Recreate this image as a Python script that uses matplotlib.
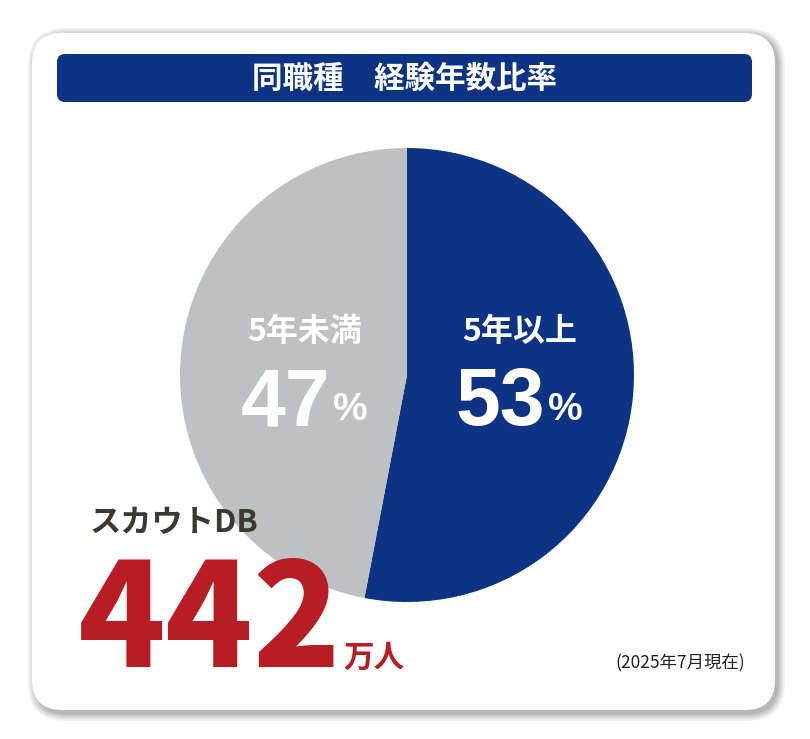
import matplotlib.pyplot as plt
from matplotlib.patches import FancyBboxPatch

plt.rcParams['font.family'] = ['Noto Sans CJK JP', 'DejaVu Sans']

title = "同職種　経験年数比率"
categories = ["5年以上", "5年未満"]
shares = [53, 47]
slice_colors = ["#0c3384", "#bdc1c1"]
db_label = "スカウトDB"
db_count = "442"
db_unit = "万人"
note = "(2025年7月現在)"

W, H = 810, 739
fig = plt.figure(figsize=(W / 100, H / 100), dpi=100)
ax = fig.add_axes([0, 0, 1, 1])

def Y(y):
    # image rows -> data coords (y up)
    return H - y

# card shadow
for i, a in enumerate([0.05, 0.05, 0.06, 0.07, 0.08]):
    pad = 8 - i * 1.6
    ax.add_patch(FancyBboxPatch((36, Y(713)), 741, 677, boxstyle=f"round,pad={pad},rounding_size={30 + pad}",
                                fc="#000000", ec="none", alpha=a, zorder=0))
# card
ax.add_patch(FancyBboxPatch((32, Y(710)), 743, 677, boxstyle="round,pad=0,rounding_size=30",
                            fc="white", ec="none", zorder=1))
# title bar
ax.add_patch(FancyBboxPatch((57, Y(102)), 695, 48, boxstyle="round,pad=0,rounding_size=8",
                            fc="#0c3384", ec="none", zorder=2))
ax.text(405, Y(79), title, color="white", fontsize=22, fontweight="bold",
        ha="center", va="center", zorder=3)

# pie
ax.pie(shares, colors=slice_colors, startangle=90, counterclock=False,
       center=(407, Y(375)), radius=227, wedgeprops=dict(linewidth=0))
for p in ax.patches[-2:]:
    p.set_zorder(2)

num_font = ["Liberation Sans Narrow", "Liberation Sans", "DejaVu Sans"]
# labels inside slices
ax.text(520, Y(332), categories[0], color="white", fontsize=23, fontweight="bold",
        ha="center", va="center", zorder=4)
ax.text(500, Y(404), str(shares[0]), color="white", fontsize=58, fontweight="bold",
        family=num_font, ha="center", va="center", zorder=4)
ax.text(565, Y(410), "%", color="white", fontsize=28, fontweight="bold",
        family=num_font, ha="center", va="center", zorder=4)

ax.text(305, Y(332), categories[1], color="white", fontsize=23, fontweight="bold",
        ha="center", va="center", zorder=4)
ax.text(285, Y(404), str(shares[1]), color="white", fontsize=58, fontweight="bold",
        family=num_font, ha="center", va="center", zorder=4)
ax.text(350, Y(410), "%", color="white", fontsize=28, fontweight="bold",
        family=num_font, ha="center", va="center", zorder=4)

# database count
ax.text(90, Y(523), db_label, color="#3c3a2f", fontsize=22.5, fontweight="bold",
        ha="left", va="center", zorder=4)
ax.text(78, Y(667), db_count, color="#b81c24", fontsize=104, fontweight="heavy",
        ha="left", va="baseline", zorder=4)
ax.text(343, Y(667), db_unit, color="#b81c24", fontsize=22, fontweight="bold",
        ha="left", va="baseline", zorder=4)

ax.text(680, Y(663), note, color="#222222", fontsize=12.5,
        ha="center", va="center", zorder=4)

ax.set_xlim(0, W)
ax.set_ylim(0, H)
ax.set_aspect("auto")
ax.axis("off")
fig.savefig("out.png", dpi=100, facecolor="white")
